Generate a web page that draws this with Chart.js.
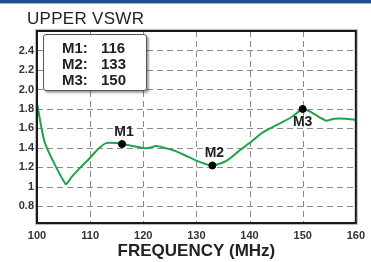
<!DOCTYPE html>
<html>
<head>
<meta charset="utf-8">
<script src="https://cdn.jsdelivr.net/npm/chart.js@4/dist/chart.umd.min.js"></script>
<style>
  html, body { margin: 0; padding: 0; background: #fff; }
  #wrap { position: relative; width: 371px; height: 262px; overflow: hidden; font-family: "Liberation Sans", Arial, sans-serif; }
  #topbar { position: absolute; left: 0; top: 0; width: 371px; height: 3px; background: #1d4f8f; border-bottom: 1px solid #9db6d6; }
  #title { position: absolute; left: 27px; top: 9px; font-size: 17px; color: #222; line-height: 20px; letter-spacing: 0.3px; }
  #markers { position: absolute; left: 43px; top: 34px; width: 102px; height: 55px; background: #fff;
    border: 1px solid #555; border-radius: 3px; box-shadow: 2px 2px 2px rgba(0,0,0,0.35);
    font-weight: bold; font-size: 15px; color: #222; }
  #markers .row { position: absolute; left: 0; width: 100%; height: 16px; line-height: 16px; }
  #markers .nm { position: absolute; left: 18px; }
  #markers .val { position: absolute; left: 57px; }
  canvas { position: absolute; left: 0; top: 0; }
</style>
</head>
<body>
<div id="wrap">
  <canvas id="chart" width="371" height="262"></canvas>
  <div id="topbar"></div>
  <div id="title">UPPER VSWR</div>
  <div id="markers"></div>
</div>
<script>
// Trace
const freq = [100, 101.5, 105.4, 106.5, 108, 110, 111.5, 113, 115, 116, 118, 120, 121, 122.5, 124, 126, 128, 130, 132, 133, 134.5, 136, 138, 140, 142.5, 146, 148, 150, 151.5, 153, 154.5, 156, 158, 160];
const vswr = [1.86, 1.45, 1.03, 1.10, 1.19, 1.30, 1.39, 1.45, 1.45, 1.44, 1.42, 1.40, 1.40, 1.42, 1.40, 1.37, 1.32, 1.27, 1.23, 1.22, 1.24, 1.28, 1.37, 1.45, 1.56, 1.66, 1.72, 1.80, 1.77, 1.72, 1.68, 1.70, 1.70, 1.69];

// markers
const markerNames = ['M1', 'M2', 'M3'];
const markerFreq = [116, 133, 150];
const markerVswr = [1.44, 1.22, 1.80];
const markerSide = ['above', 'above', 'below'];

// axis ticks
const xTicks = [100, 110, 120, 130, 140, 150, 160];
const yTickValues = [0.8, 1, 1.2, 1.4, 1.6, 1.8, 2.0, 2.2, 2.4];
const yTickLabels = ['0.8', '1', '1.2', '1.4', '1.6', '1.8', '2.0', '2.2', '2.4'];

// marker readout box
const box = document.getElementById('markers');
markerNames.forEach((n, i) => {
  const row = document.createElement('div');
  row.className = 'row';
  row.style.top = (5 + i * 16) + 'px';
  row.innerHTML = '<span class="nm">' + n + ':</span><span class="val">' + markerFreq[i] + '</span>';
  box.appendChild(row);
});

const FONT = '"Liberation Sans", Arial, sans-serif';

const frame = {
  id: 'frame',
  beforeDatasetsDraw(chart) {
    // dashed grid from the scale ticks
    const a = chart.chartArea, c = chart.ctx;
    const xs = chart.scales.x, ys = chart.scales.y;
    c.save();
    c.strokeStyle = '#8a8a8a';
    c.lineWidth = 1;
    c.setLineDash([6, 4]);
    xs.ticks.forEach(t => {
      const px = Math.round(xs.getPixelForValue(t.value)) + 0.5;
      c.beginPath(); c.moveTo(px, a.top); c.lineTo(px, a.bottom); c.stroke();
    });
    ys.ticks.forEach(t => {
      const py = Math.round(ys.getPixelForValue(t.value)) + 0.5;
      c.beginPath(); c.moveTo(a.left, py); c.lineTo(a.right, py); c.stroke();
    });
    c.restore();
  },
  afterDatasetsDraw(chart) {
    const a = chart.chartArea, c = chart.ctx;
    c.save();
    c.strokeStyle = '#bbb';
    c.lineWidth = 1;
    c.strokeRect(a.left - 1.5, a.top - 1.5, a.right - a.left + 3, a.bottom - a.top + 3);
    c.strokeStyle = '#1a1a1a';
    c.lineWidth = 2;
    c.strokeRect(a.left, a.top, a.right - a.left, a.bottom - a.top);
    c.restore();
  },
  afterDraw(chart) {
    const c = chart.ctx;
    const xs = chart.scales.x, ys = chart.scales.y;
    c.save();
    c.font = 'bold 14px ' + FONT;
    c.fillStyle = '#222';
    c.textAlign = 'center';
    markerNames.forEach((n, i) => {
      const px = xs.getPixelForValue(markerFreq[i]);
      const py = ys.getPixelForValue(markerVswr[i]);
      if (markerSide[i] === 'above') {
        c.textBaseline = 'bottom';
        c.fillText(n, px + 2, py - 5);
      } else {
        c.textBaseline = 'top';
        c.fillText(n, px, py + 6);
      }
    });
    c.restore();
  }
};

new Chart(document.getElementById('chart').getContext('2d'), {
  type: 'scatter',
  data: {
    datasets: [{
      data: freq.map((f, i) => ({ x: f, y: vswr[i] })),
      showLine: true,
      borderColor: '#1fa34b',
      borderWidth: 2,
      pointRadius: 0,
      tension: 0.2,
      order: 2
    }, {
      data: markerFreq.map((f, i) => ({ x: f, y: markerVswr[i] })),
      showLine: false,
      pointRadius: 3.5,
      pointBackgroundColor: '#000',
      pointBorderColor: '#000',
      order: 1
    }]
  },
  options: {
    responsive: false,
    animation: false,
    layout: { padding: { top: 31, right: 15, left: 0, bottom: 0 } },
    plugins: { legend: { display: false }, tooltip: { enabled: false } },
    scales: {
      x: {
        type: 'linear',
        min: 100, max: 160,
        afterBuildTicks: s => { s.ticks = xTicks.map(v => ({ value: v })); },
        afterFit: s => { s.height = 39; },
        grid: { display: false, drawTicks: false },
        border: { display: false },
        ticks: { padding: 6, color: '#333', font: { family: FONT, size: 11, weight: 'bold' }, maxRotation: 0 },
        title: { display: true, text: 'FREQUENCY (MHz)', color: '#222', padding: { top: 0, bottom: 0 }, font: { family: FONT, size: 17, weight: 'bold' } }
      },
      y: {
        min: 0.63, max: 2.6,
        afterBuildTicks: s => { s.ticks = yTickValues.map(v => ({ value: v })); },
        afterFit: s => { s.width = 37; },
        grid: { display: false, drawTicks: false },
        border: { display: false },
        ticks: {
          padding: 3, color: '#333', font: { family: FONT, size: 11, weight: 'bold' },
          callback: (v) => { const i = yTickValues.indexOf(v); return i >= 0 ? yTickLabels[i] : ''; }
        }
      }
    }
  },
  plugins: [frame]
});
</script>
</body>
</html>
